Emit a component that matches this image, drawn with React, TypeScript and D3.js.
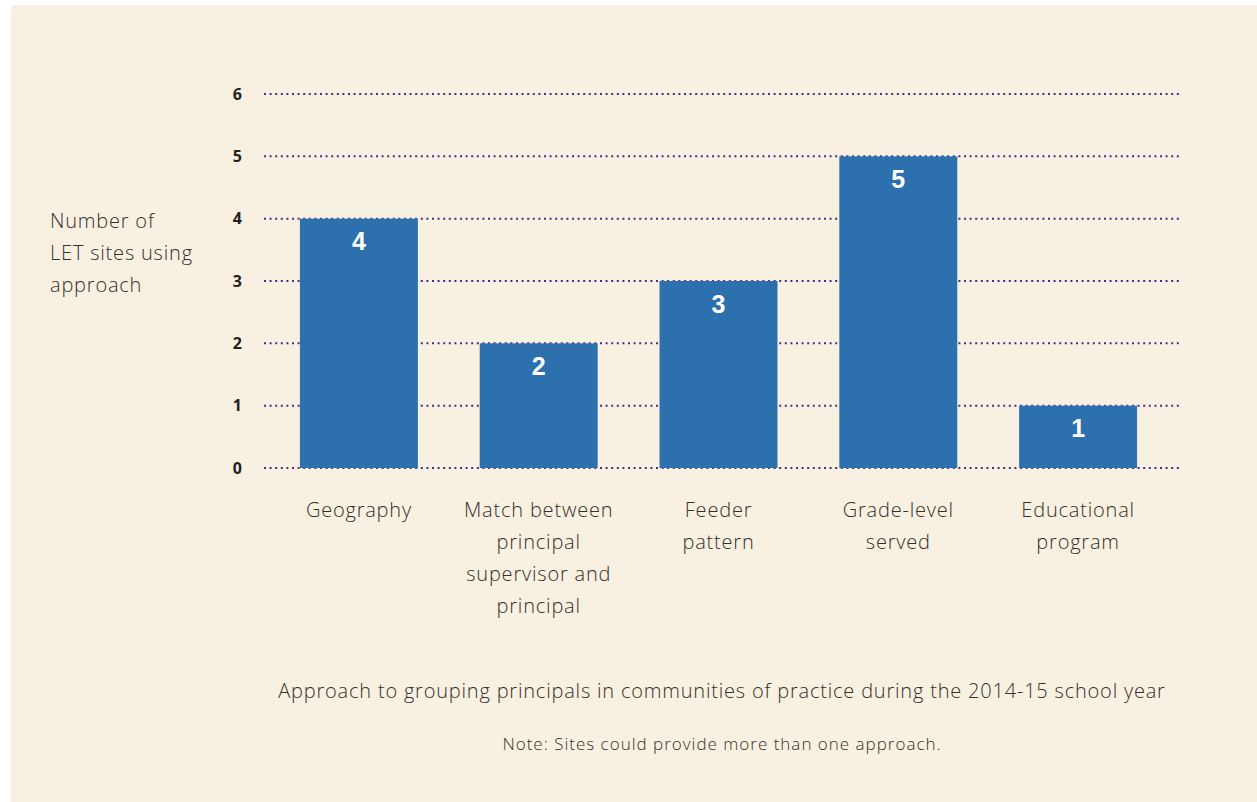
import React from "react";
import * as d3 from "d3";

const categories: string[][] = [
  ["Geography"],
  ["Match between", "principal", "supervisor and", "principal"],
  ["Feeder", "pattern"],
  ["Grade-level", "served"],
  ["Educational", "program"],
];
const values: number[] = [4, 2, 3, 5, 1];
const yTicks: number[] = [0, 1, 2, 3, 4, 5, 6];
const yLabel: string[] = ["Number of", "LET sites using", "approach"];
const xTitle = "Approach to grouping principals in communities of practice during the 2014-15 school year";
const note = "Note: Sites could provide more than one approach.";

const W = 1257;
const H = 802;
const FONT = "'Open Sans', sans-serif";
const TXT = "#35302c";

export default function App() {
  const x = d3
    .scaleBand<number>()
    .domain(values.map((_, i) => i))
    .range([269, 1168])
    .paddingInner(0.344)
    .paddingOuter(0.172);
  const y = d3.scaleLinear().domain([0, 6]).range([468, 94]);

  const body = {
    fontFamily: FONT,
    fontWeight: 300,
    fontSize: 20,
    letterSpacing: 0.8,
    fill: TXT,
  } as const;

  return (
    <svg
      width={W}
      height={H}
      style={{ position: "absolute", left: 0, top: 0 }}
    >
      <rect x={11} y={5} width={W - 11} height={H - 5} fill="#f8f0e0" />
      {yTicks.map((t) => (
        <g key={t}>
          <line
            x1={264}
            x2={1181}
            y1={y(t)}
            y2={y(t)}
            stroke="#4a2a90"
            strokeWidth={2}
            strokeDasharray="2 3.6"
          />
          <text
            x={242}
            y={y(t)}
            dy="0.35em"
            textAnchor="end"
            fontFamily={FONT}
            fontWeight="bold"
            fontSize={16}
            fill="#222"
          >
            {t}
          </text>
        </g>
      ))}
      {values.map((v, i) => (
        <g key={i}>
          <rect
            x={x(i)}
            y={y(v)}
            width={x.bandwidth()}
            height={y(0) - y(v)}
            fill="#2c70ad"
          />
          <text
            x={(x(i) as number) + x.bandwidth() / 2}
            y={y(v) + 23}
            dy="0.35em"
            textAnchor="middle"
            fontFamily="'Liberation Sans', Arial, sans-serif"
            fontWeight="bold"
            fontSize={25}
            fill="#ffffff"
          >
            {v}
          </text>
          {categories[i].map((line, j) => (
            <text
              key={j}
              x={(x(i) as number) + x.bandwidth() / 2}
              y={510 + j * 32}
              dy="0.35em"
              textAnchor="middle"
              {...body}
            >
              {line}
            </text>
          ))}
        </g>
      ))}
      {yLabel.map((line, j) => (
        <text key={j} x={50} y={221 + j * 32} dy="0.35em" {...body}>
          {line}
        </text>
      ))}
      <text x={722} y={691} dy="0.35em" textAnchor="middle" {...body}>
        {xTitle}
      </text>
      <text
        x={722}
        y={744}
        dy="0.35em"
        textAnchor="middle"
        {...body}
        fontSize={17}
        letterSpacing={1}
      >
        {note}
      </text>
    </svg>
  );
}
